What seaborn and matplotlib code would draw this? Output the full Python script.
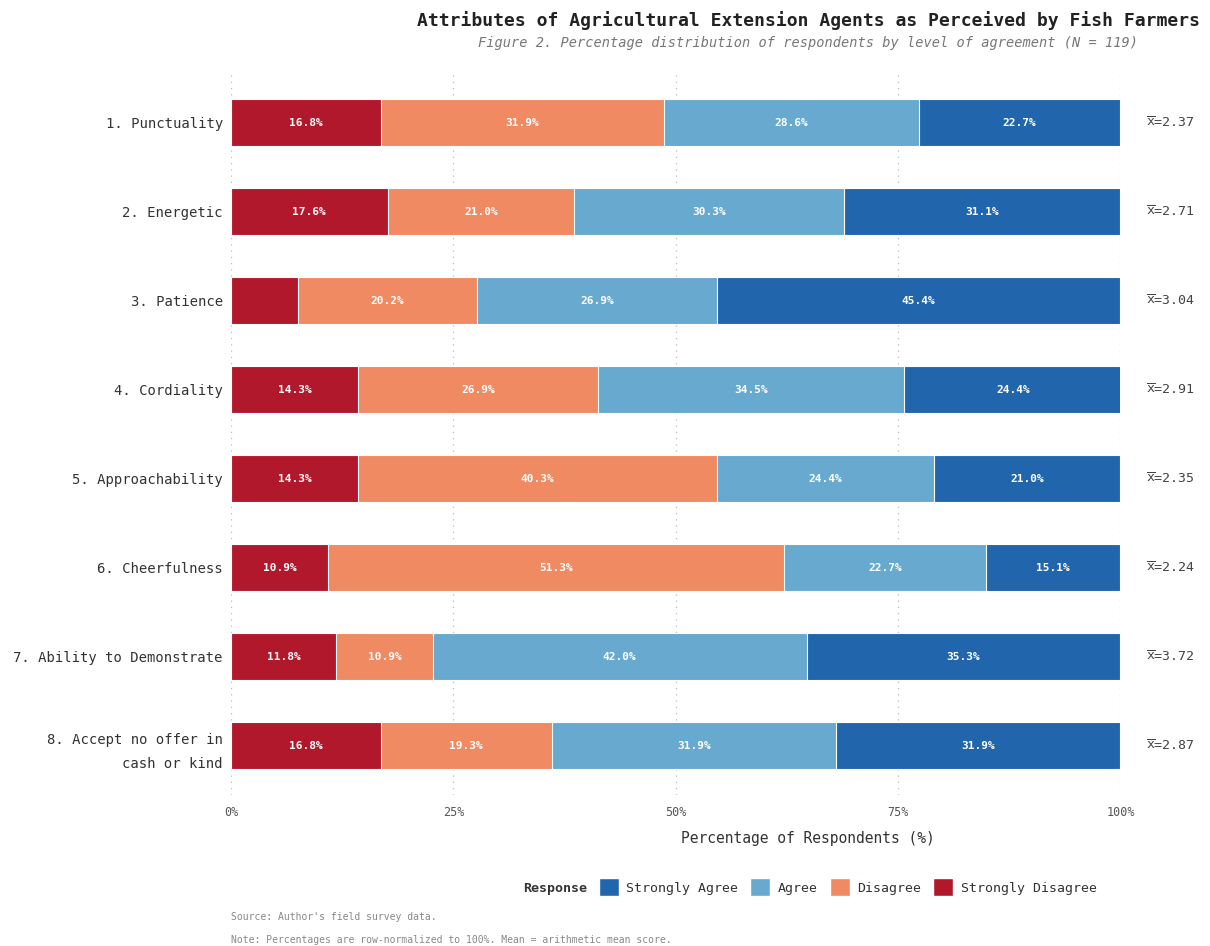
import numpy as np
import pandas as pd
import matplotlib.pyplot as plt
import seaborn as sns
from matplotlib.patches import Patch

# data
attributes = ["1. Punctuality", "2. Energetic", "3. Patience", "4. Cordiality",
              "5. Approachability", "6. Cheerfulness", "7. Ability to Demonstrate",
              "8. Accept no offer in\ncash or kind"]
strongly_disagree = [16.8, 17.6, 7.5, 14.3, 14.3, 10.9, 11.8, 16.8]
disagree = [31.9, 21.0, 20.2, 26.9, 40.3, 51.3, 10.9, 19.3]
agree = [28.6, 30.3, 26.9, 34.5, 24.4, 22.7, 42.0, 31.9]
strongly_agree = [22.7, 31.1, 45.4, 24.4, 21.0, 15.1, 35.3, 31.9]
means = [2.37, 2.71, 3.04, 2.91, 2.35, 2.24, 3.72, 2.87]

responses = ["Strongly Disagree", "Disagree", "Agree", "Strongly Agree"]
colors = {"Strongly Disagree": "#b2182b", "Disagree": "#ef8a62",
          "Agree": "#67a9cf", "Strongly Agree": "#2166ac"}

df = pd.DataFrame({"Attribute": attributes,
                   "Strongly Disagree": strongly_disagree,
                   "Disagree": disagree,
                   "Agree": agree,
                   "Strongly Agree": strongly_agree})
cum = df[responses].cumsum(axis=1)
cum["Attribute"] = df["Attribute"]

sns.set_theme(style="white")
plt.rcParams["font.family"] = ["DejaVu Sans Mono", "DejaVu Sans"]
plt.rcParams["mathtext.fontset"] = "dejavusans"

fig = plt.figure(figsize=(12.1, 9.46), dpi=100)
ax = fig.add_axes([0.191, 0.160, 0.735, 0.761])

# stacked bars: draw cumulative totals from the longest down
for resp in reversed(responses):
    sns.barplot(data=cum, y="Attribute", x=resp, color=colors[resp], orient="h",
                width=0.53, saturation=1, edgecolor="white", linewidth=0.8,
                ax=ax, zorder=2)

# segment labels
for i in range(len(attributes)):
    left = 0
    for resp in responses:
        val = df.loc[i, resp]
        if val >= 9:
            ax.text(left + val / 2, i, f"{val:.1f}%", ha="center", va="center",
                    color="white", fontsize=8, fontweight="bold", zorder=3)
        left += val
    ax.text(102.9, i, r"$\overline{\mathtt{x}}$" + f"={means[i]:.2f}", ha="left",
            va="center", fontsize=9.5, color="#444444")

ax.set_xlim(0, 100)
ax.set_ylim(7.55, -0.54)
ax.set_xticks([0, 25, 50, 75, 100])
ax.set_xticklabels(["0%", "25%", "50%", "75%", "100%"], fontsize=8.5, color="#555555")
ax.tick_params(axis="y", labelsize=10, colors="#333333", length=0, pad=6)
ax.tick_params(axis="x", length=0, pad=8)
for t in ax.get_yticklabels():
    t.set_linespacing(1.9)
ax.set_ylabel("")
ax.set_xlabel("Percentage of Respondents (%)", fontsize=10.5, color="#333333")
ax.xaxis.set_label_coords(0.649, -0.05)
ax.xaxis.grid(True, linestyle=(0, (1, 4)), color="#bbbbbb", linewidth=0.9, zorder=0)
ax.set_axisbelow(True)
sns.despine(ax=ax, left=True, bottom=True)

fig.text(0.668, 0.978, "Attributes of Agricultural Extension Agents as Perceived by Fish Farmers",
         ha="center", va="center", fontsize=13, fontweight="bold", color="#222222")
fig.text(0.668, 0.955, "Figure 2. Percentage distribution of respondents by level of agreement (N = 119)",
         ha="center", va="center", fontsize=9.8, style="italic", color="#777777")

# legend with the "Response" title inline on the left
handles = [Patch(visible=False, label="Response")]
handles += [Patch(facecolor=colors[r], label=r) for r in reversed(responses)]
leg = fig.legend(handles=handles, loc="center", bbox_to_anchor=(0.658, 0.062), ncol=5,
                 frameon=False, fontsize=9.5, handlelength=1.5, handleheight=1.7,
                 columnspacing=0.9, handletextpad=0.6)
leg.get_texts()[0].set_fontweight("bold")
for t in leg.get_texts():
    t.set_color("#333333")

fig.text(0.191, 0.031, "Source: Author's field survey data.", fontsize=7, color="#888888",
         va="center")
fig.text(0.191, 0.006, "Note: Percentages are row-normalized to 100%. Mean = arithmetic mean score.",
         fontsize=7, color="#888888", va="center")

fig.savefig("out.png", dpi=100)
